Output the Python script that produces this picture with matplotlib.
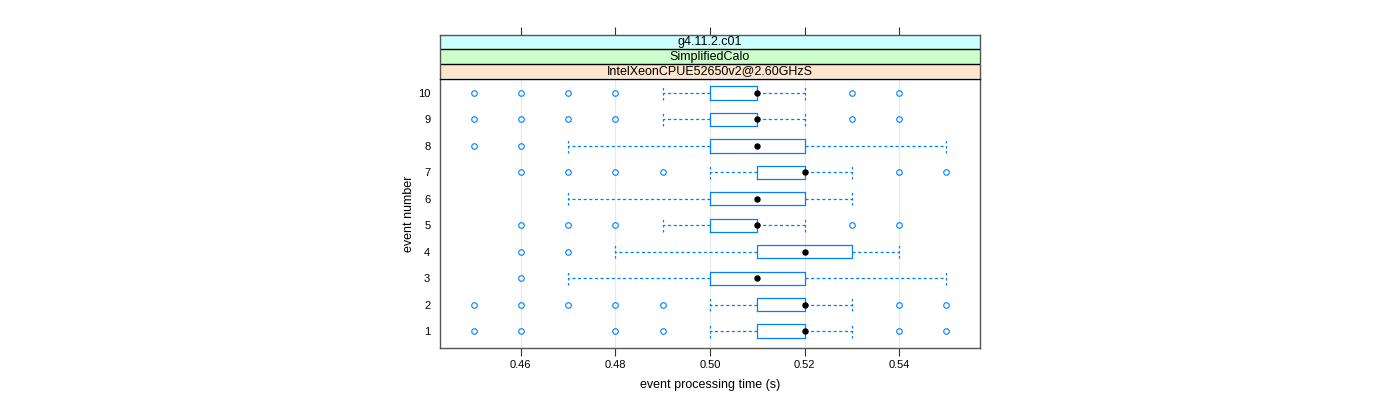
import matplotlib
matplotlib.use('Agg')
import matplotlib.pyplot as plt

plt.rcParams['font.family'] = ['Liberation Sans', 'DejaVu Sans']

# dados (por numero do evento)
eventos = [1, 2, 3, 4, 5, 6, 7, 8, 9, 10]
q1 = [0.51, 0.51, 0.50, 0.51, 0.50, 0.50, 0.51, 0.50, 0.50, 0.50]
mediana = [0.52, 0.52, 0.51, 0.52, 0.51, 0.51, 0.52, 0.51, 0.51, 0.51]
q3 = [0.52, 0.52, 0.52, 0.53, 0.51, 0.52, 0.52, 0.52, 0.51, 0.51]
bigode_inf = [0.50, 0.50, 0.47, 0.48, 0.49, 0.47, 0.50, 0.47, 0.49, 0.49]
bigode_sup = [0.53, 0.53, 0.55, 0.54, 0.52, 0.53, 0.53, 0.55, 0.52, 0.52]
outliers = [
    [0.45, 0.46, 0.48, 0.49, 0.54, 0.55],
    [0.45, 0.46, 0.47, 0.48, 0.49, 0.54, 0.55],
    [0.46],
    [0.46, 0.47],
    [0.46, 0.47, 0.48, 0.53, 0.54],
    [],
    [0.46, 0.47, 0.48, 0.49, 0.54, 0.55],
    [0.45, 0.46],
    [0.45, 0.46, 0.47, 0.48, 0.53, 0.54],
    [0.45, 0.46, 0.47, 0.48, 0.53, 0.54],
]
xticks = [0.46, 0.48, 0.50, 0.52, 0.54]
strips = ['g4.11.2.c01', 'SimplifiedCalo', 'IntelXeonCPUE52650v2@2.60GHzS']
cores_strip = ['#ccffff', '#ccffcc', '#ffe5cc']

azul = '#0080ff'

fig = plt.figure(figsize=(14, 4), dpi=100)
ax = fig.add_axes([440/1400, 1-348/400, 540/1400, (348-79)/400])

stats = []
for i in range(len(eventos)):
    stats.append({'med': mediana[i], 'q1': q1[i], 'q3': q3[i],
                  'whislo': bigode_inf[i], 'whishi': bigode_sup[i],
                  'fliers': outliers[i]})

ax.bxp(stats, positions=eventos, widths=0.5, orientation='horizontal',
       showfliers=True,
       boxprops=dict(color=azul, linewidth=0.9),
       whiskerprops=dict(color=azul, linewidth=0.9, linestyle=(0, (2.5, 2))),
       capprops=dict(color=azul, linewidth=0.9, linestyle=(0, (2, 2))),
       medianprops=dict(linestyle='none'),
       flierprops=dict(marker='o', markersize=4, markerfacecolor='none',
                       markeredgecolor=azul, markeredgewidth=0.8),
       capwidths=0.5)
ax.plot(mediana, eventos, 'o', color='black', markersize=3.6, zorder=5)

ax.set_xlim(0.4429, 0.5571)
ax.set_ylim(0.36, 10.53)
ax.set_xticks(xticks)
ax.set_xticklabels(['%.2f' % t for t in xticks])
ax.set_yticks(eventos)
ax.set_yticklabels([str(e) for e in eventos])
ax.tick_params(axis='x', direction='out', length=6, width=0.8, color='#333333',
               labelsize=8, pad=3)
ax.tick_params(axis='y', length=0, labelsize=8, pad=7)
ax.grid(axis='x', color='#e8e8e8', linewidth=0.8)
ax.set_axisbelow(True)
for s in ax.spines.values():
    s.set_color('#555555')
    s.set_linewidth(1.0)
ax.spines['top'].set_color('black')
ax.set_xlabel('event processing time (s)', fontsize=9, labelpad=6)
ax.set_ylabel('event number', fontsize=9, labelpad=2)

# faixas (strips) em cima do painel
ax_s = fig.add_axes([440/1400, 1-78.3/400, 540/1400, (78.3-34.7)/400], sharex=ax)
ax_s.set_ylim(0, 3)
for i, (txt, cor) in enumerate(zip(strips, cores_strip)):
    y0 = 2 - i
    ax_s.axhspan(y0, y0 + 1, color=cor, zorder=0)
    if y0 > 0:
        ax_s.axhline(y0, color='black', linewidth=1.0)
    ax_s.text(0.5, y0 + 0.47, txt, transform=ax_s.get_yaxis_transform(),
              ha='center', va='center', fontsize=9)
ax_s.tick_params(axis='x', which='both', bottom=False, labelbottom=False,
                 top=True, labeltop=False, direction='out', length=6,
                 width=0.8, color='#333333')
ax_s.set_yticks([])
for s in ax_s.spines.values():
    s.set_color('#555555')
    s.set_linewidth(1.0)
ax_s.spines['bottom'].set_visible(False)

fig.savefig('out.png', dpi=100)
